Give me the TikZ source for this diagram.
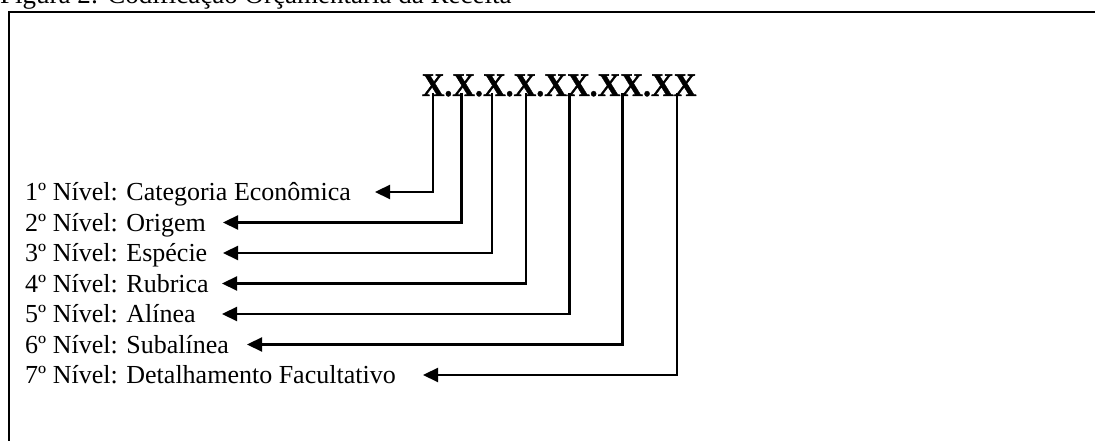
\documentclass[tikz,border=0pt]{standalone}
\usepackage{fontspec}
\setmainfont{Liberation Serif}
\newfontfamily\codefont{Liberation Serif}[FakeBold=1.2]
\usetikzlibrary{arrows.meta}
\begin{document}
\begin{tikzpicture}[x=1pt,y=1pt,
  lbl/.style={anchor=base west, inner sep=0pt, font=\fontsize{26}{30}\selectfont},
  conn/.style={line width=2.2pt, -{Triangle[length=15pt,width=14pt]}},
  frameline/.style={line width=2pt}]
\useasboundingbox (0,0) rectangle (1095,441);
\clip (0,0) rectangle (1095,441);
% title
\node[anchor=base west, inner sep=0pt, font=\fontsize{27}{32}\selectfont] (title) at (0,437.5) {Figura 2: Codificação Orçamentária da Receita};
% frame
\draw[frameline] (9,429) rectangle (1110,-10);
% code
\node[anchor=base west, inner sep=0pt, xscale=0.955, font=\codefont\fontsize{33}{38}\selectfont\bfseries] (code) at (421.5,345) {X.X.X.X.XX.XX.XX};
% labels
\node[lbl] (l1) at (25,240.4) {1º Nível: Categoria Econômica};
\node[lbl] (l2) at (25,209.9) {2º Nível: Origem};
\node[lbl] (l3) at (25,179.4) {3º Nível: Espécie};
\node[lbl] (l4) at (25,148.9) {4º Nível: Rubrica};
\node[lbl] (l5) at (25,118.4) {5º Nível: Alínea};
\node[lbl] (l6) at (25,87.9) {6º Nível: Subalínea};
\node[lbl] (l7) at (25,57.4) {7º Nível: Detalhamento Facultativo};
% connector tops
\coordinate (t1) at (433,348);
\coordinate (t2) at (461.5,348);
\coordinate (t3) at (491.7,348);
\coordinate (t4) at (526,348);
\coordinate (t5) at (569.5,348);
\coordinate (t6) at (622.5,348);
\coordinate (t7) at (677,348);
% arrow tips
\coordinate (a1) at (375,249);
\coordinate (a2) at (223,218.5);
\coordinate (a3) at (223,188);
\coordinate (a4) at (222,157.5);
\coordinate (a5) at (222,127);
\coordinate (a6) at (247,96.5);
\coordinate (a7) at (423,66);
\foreach \i in {1,...,7}{\draw[conn] (t\i) |- (a\i);}
\end{tikzpicture}
\end{document}
